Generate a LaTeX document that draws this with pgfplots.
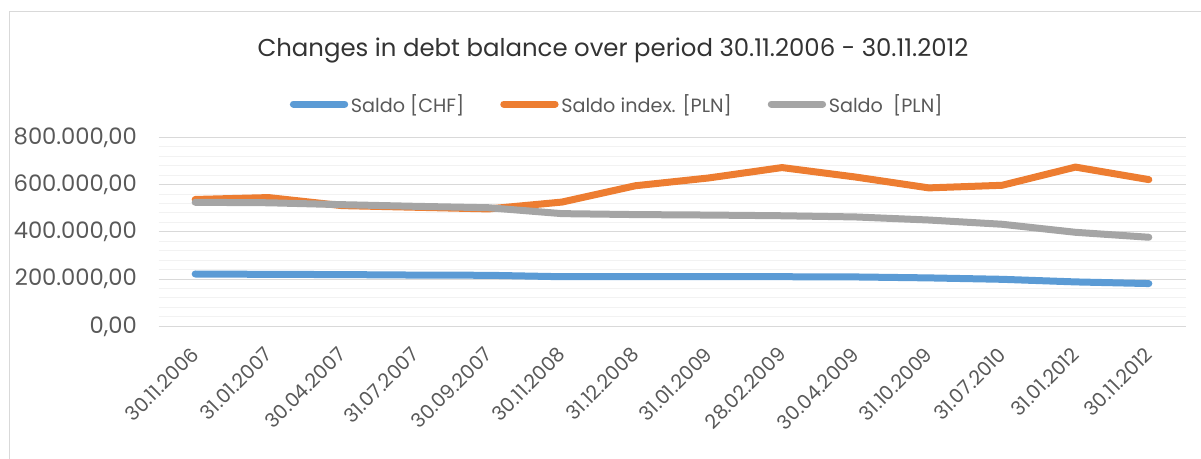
\documentclass[border=0pt]{standalone}
\usepackage{pgfplots}
\pgfplotsset{compat=1.18}
\usepackage{fontspec}
\setmainfont{Poppins}
\definecolor{cblue}{HTML}{5B9BD5}
\definecolor{corange}{HTML}{ED7D31}
\definecolor{cgray}{HTML}{A5A5A5}
\definecolor{gridmaj}{HTML}{D9D9D9}
\definecolor{gridmin}{HTML}{F2F2F2}
\definecolor{tickgray}{HTML}{595959}
\definecolor{titlecol}{HTML}{333333}
\begin{document}
\begin{tikzpicture}
\useasboundingbox (0,0) rectangle (900.75pt,344.25pt);
\draw[gridmaj, line width=0.75pt] (6.75pt,-10pt) -- (6.75pt,335.25pt) -- (910pt,335.25pt);
\begin{axis}[
  at={(118.875pt,99.5pt)}, anchor=south west,
  scale only axis, width=770.25pt, height=141.75pt,
  xmin=-0.5, xmax=13.5, ymin=0, ymax=800000,
  xtick={0,...,13},
  xticklabels={30.11.2006,31.01.2007,30.04.2007,31.07.2007,30.09.2007,30.11.2008,31.12.2008,31.01.2009,28.02.2009,30.04.2009,31.10.2009,31.07.2010,31.01.2012,30.11.2012},
  ytick={0,200000,400000,600000,800000},
  yticklabels={{0,00},{200.000,00},{400.000,00},{600.000,00},{800.000,00}},
  scaled y ticks=false,
  minor y tick num=4,
  ymajorgrids, yminorgrids,
  major grid style={gridmaj, line width=0.75pt},
  minor grid style={gridmin, line width=0.75pt},
  axis line style={draw=none},
  major tick length=0pt, minor tick length=0pt,
  yticklabel style={font=\fontsize{17}{20}\selectfont, text=tickgray, anchor=east, inner sep=0pt, xshift=-16pt},
  xticklabel style={font=\fontsize{14.8}{17}\selectfont, text=tickgray, xshift=0pt, yshift=-18.5pt, rotate=45, anchor=east, inner sep=0pt},
  legend columns=3,
  legend style={at={(axis description cs:0.4469,1.176)}, anchor=center, draw=none, fill=none,
    font=\fontsize{14.4}{17}\selectfont, text=tickgray,
    /tikz/every even column/.append style={column sep=25pt}},
  legend image code/.code={\draw[#1, line width=5.25pt, line cap=round] (0pt,0pt) -- (38.5pt,0pt);},
  every axis plot/.append style={line width=5.25pt, line cap=round, line join=round, mark=none},
]
\addplot[cblue] coordinates {(0,221500)(1,220000)(2,219000)(3,217000)(4,216000)(5,210000)(6,210000)(7,210000)(8,210000)(9,209000)(10,205000)(11,199000)(12,188000)(13,181000)};
\addlegendentry{Saldo [CHF]}
\addplot[corange] coordinates {(0,537000)(1,545000)(2,511000)(3,504000)(4,497000)(5,526000)(6,595000)(7,628000)(8,672000)(9,632000)(10,586000)(11,597000)(12,674000)(13,621000)};
\addlegendentry{Saldo index. [PLN]}
\addplot[cgray] coordinates {(0,525000)(1,523000)(2,515000)(3,508000)(4,502000)(5,477000)(6,473000)(7,471000)(8,468000)(9,463000)(10,450000)(11,432000)(12,398000)(13,377000)};
\addlegendentry{Saldo\ \ [PLN]}
\end{axis}
\node[anchor=base, font=\fontsize{18.3}{22}\selectfont, text=titlecol] at (459.75pt,301.5pt) {Changes in debt balance over period 30.11.2006 - 30.11.2012};
\end{tikzpicture}
\end{document}
